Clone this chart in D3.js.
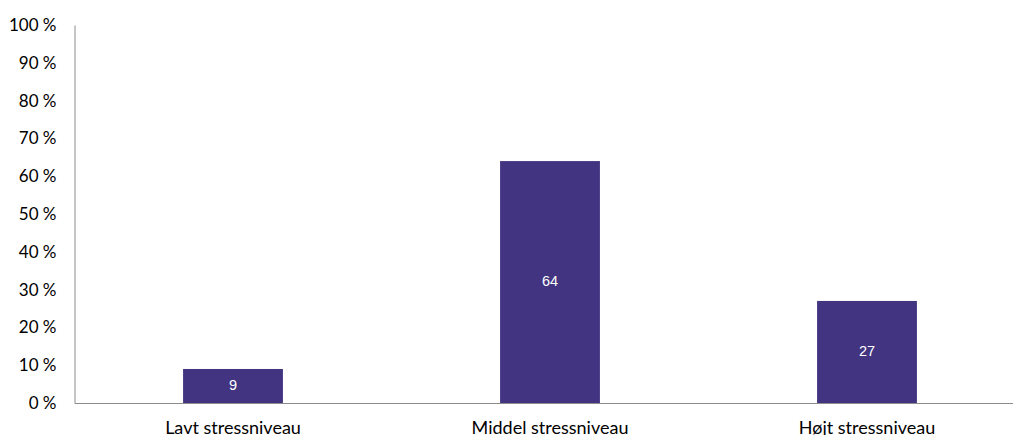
<!DOCTYPE html>
<html><head><meta charset="utf-8">
<script src="https://cdn.jsdelivr.net/npm/d3@7"></script>
<style>body{margin:0;background:#fff;}svg{display:block;}</style>
</head><body>
<svg id="c" width="1013" height="435"></svg>
<script>
const categories = ["Lavt stressniveau", "Middel stressniveau", "Højt stressniveau"];
const values = [9, 64, 27];
const yTicks = [0, 10, 20, 30, 40, 50, 60, 70, 80, 90, 100];

(function () {
const svg = d3.select("#c");
const mLeft = 74.5, mTop = 25, mBottom = 403;
const x = d3.scaleBand().domain(categories).range([mLeft, mLeft + 951]).paddingInner(0.685).paddingOuter(0.3425);
const y = d3.scaleLinear().domain([0, 100]).range([mBottom, mTop]);

const font = "Lato, 'Liberation Sans', sans-serif";
const valFont = "'Liberation Sans', Arial, sans-serif";

// y axis
const ya = svg.append("g").attr("transform", `translate(${mLeft},0)`)
  .call(d3.axisLeft(y).tickValues(yTicks).tickSize(0).tickPadding(18).tickFormat(d => d + " %"));
ya.select(".domain").attr("stroke", "#8c8c8c");
ya.selectAll("text").attr("font-family", font).attr("font-size", 17).attr("fill", "#000");

// bars
svg.append("g").selectAll("rect").data(values).join("rect")
  .attr("x", (d, i) => x(categories[i]))
  .attr("width", x.bandwidth())
  .attr("y", d => y(d))
  .attr("height", d => y(0) - y(d))
  .attr("fill", "#423480");

// x axis
const xa = svg.append("g").attr("transform", `translate(0,${mBottom})`)
  .call(d3.axisBottom(x).tickSize(0).tickPadding(18).tickSizeOuter(0));
xa.select(".domain").attr("stroke", "#8c8c8c");
xa.selectAll("text").attr("font-family", font).attr("font-size", 18).attr("fill", "#000");

// value labels
svg.append("g").selectAll("text").data(values).join("text")
  .attr("x", (d, i) => x(categories[i]) + x.bandwidth() / 2)
  .attr("y", d => (y(d) + y(0)) / 2)
  .attr("dy", "0.3em")
  .attr("text-anchor", "middle")
  .attr("font-family", valFont).attr("font-size", 14.5).attr("fill", "#fff")
  .text(d => d);
})();
</script>
</body></html>
